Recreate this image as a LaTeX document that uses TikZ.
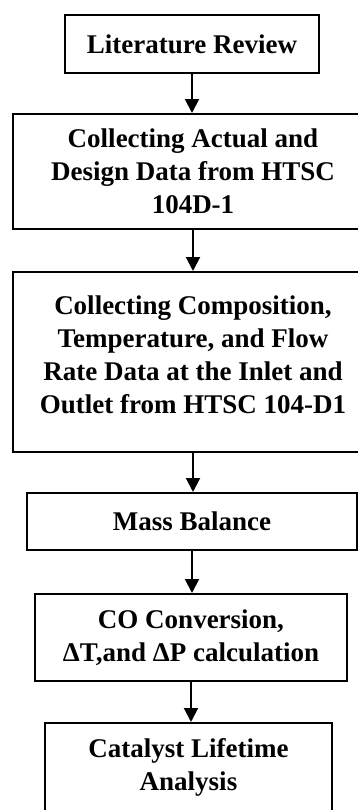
\documentclass[tikz,border=0pt]{standalone}
\usepackage{fontspec}
\setmainfont{Liberation Serif}
\usetikzlibrary{arrows.meta, positioning}

\begin{document}
\begin{tikzpicture}[x=0.5pt, y=-0.5pt,
      stage/.style={draw, rectangle, line width=1pt, align=center,
                    inner sep=0pt, font=\fontsize{13.5}{16.5}\selectfont\bfseries},
      arr/.style={-{Triangle[length=7pt, width=7pt]}, line width=1pt}
    ]
    \useasboundingbox (0,0) rectangle (358,810);

    \node[stage, minimum width=127pt, minimum height=29pt]   (lit)    at (192, 44)  {Literature Review};
    \node[stage, minimum width=180pt, minimum height=57.5pt] (actual) at (193, 171.5) {Collecting Actual and\\Design Data from HTSC\\104D-1};
    \node[stage, minimum width=180pt, minimum height=90pt]   (comp)   at (193, 362) {Collecting Composition,\\Temperature, and Flow\\Rate Data at the Inlet and\\Outlet from HTSC 104-D1\\[-9.5pt]\mbox{}};
    \node[stage, minimum width=165pt, minimum height=28.5pt] (mass)   at (192, 521.5) {Mass Balance};
    \node[stage, minimum width=156pt, minimum height=43.5pt] (conv)   at (191, 637.5) {CO Conversion,\\ΔT,and ΔP calculation};
    \node[stage, minimum width=143.5pt, minimum height=44.5pt] (life) at (188.5, 767.5) {Catalyst Lifetime\\Analysis};

    \draw[arr] (lit)    -- (lit |- actual.north);
    \draw[arr] (actual) -- (actual |- comp.north);
    \draw[arr] (comp)   -- (comp |- mass.north);
    \draw[arr] (mass)   -- (mass |- conv.north);
    \draw[arr] (conv)   -- (conv |- life.north);
  \end{tikzpicture}
\end{document}
